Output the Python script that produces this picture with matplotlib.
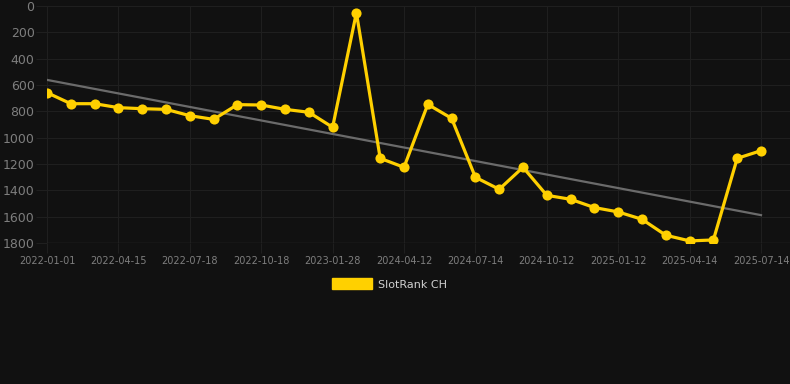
import matplotlib
matplotlib.use("Agg")
import matplotlib.pyplot as plt
import numpy as np
from matplotlib.patches import Patch

ranks = [658, 742, 742, 772, 780, 785, 833, 861, 749, 752, 785, 807, 921, 51,
         1157, 1225, 747, 853, 1301, 1392, 1225, 1438, 1468, 1531, 1564, 1620,
         1741, 1784, 1777, 1157, 1099]
tick_labels = ["2022-01-01", "2022-04-15", "2022-07-18", "2022-10-18", "2023-01-28",
               "2024-04-12", "2024-07-14", "2024-10-12", "2025-01-12", "2025-04-14",
               "2025-07-14"]
series_name = "SlotRank CH"

BG = "#111111"
GRID = "#1f1f1f"
TXT = "#7e7e7e"
GOLD = "#FFD000"

fig = plt.figure(figsize=(7.9, 3.84), dpi=100, facecolor=BG)
ax = fig.add_axes([47/790, 1 - 243/384, 1 - 47/790, (243 - 6)/384], facecolor=BG)

x = np.arange(len(ranks))
y = np.array(ranks, dtype=float)

# trend line (linear regression)
coef = np.polyfit(x, y, 1)
ax.plot([x[0], x[-1]], np.polyval(coef, [x[0], x[-1]]), color="#6b6b6b", lw=1.6, zorder=2)

ax.plot(x, y, color=GOLD, lw=2.3, marker="o", ms=7.3, markeredgewidth=0,
        zorder=3, label=series_name, solid_joinstyle="round")

ax.set_ylim(1800, 0)
ax.set_xlim(0, 30 + (790 - 761) / 23.8)
ax.set_yticks(range(0, 1801, 200))
ax.set_xticks(x[::3])
ax.set_xticklabels(tick_labels)

ax.grid(True, color=GRID, lw=0.8)
ax.set_axisbelow(True)
for s in ax.spines.values():
    s.set_visible(False)
ax.axhline(1800, color="#2e2e2e", lw=1.0, zorder=1)

ax.tick_params(axis="y", colors=GRID, labelcolor=TXT, labelsize=9, length=8, width=0.8, pad=1)
ax.tick_params(axis="x", colors=GRID, labelcolor=TXT, labelsize=7, length=7, width=0.8, pad=2)

handle = Patch(facecolor=GOLD, edgecolor=GOLD)
fig.legend([handle], [series_name], loc="center", bbox_to_anchor=(389.5/790, 1 - 284/384),
           frameon=False, labelcolor="#d0d0d0", fontsize=8, handlelength=3.6, handleheight=1.1,
           handletextpad=0.6)

fig.savefig("out.png", dpi=100, facecolor=BG)
